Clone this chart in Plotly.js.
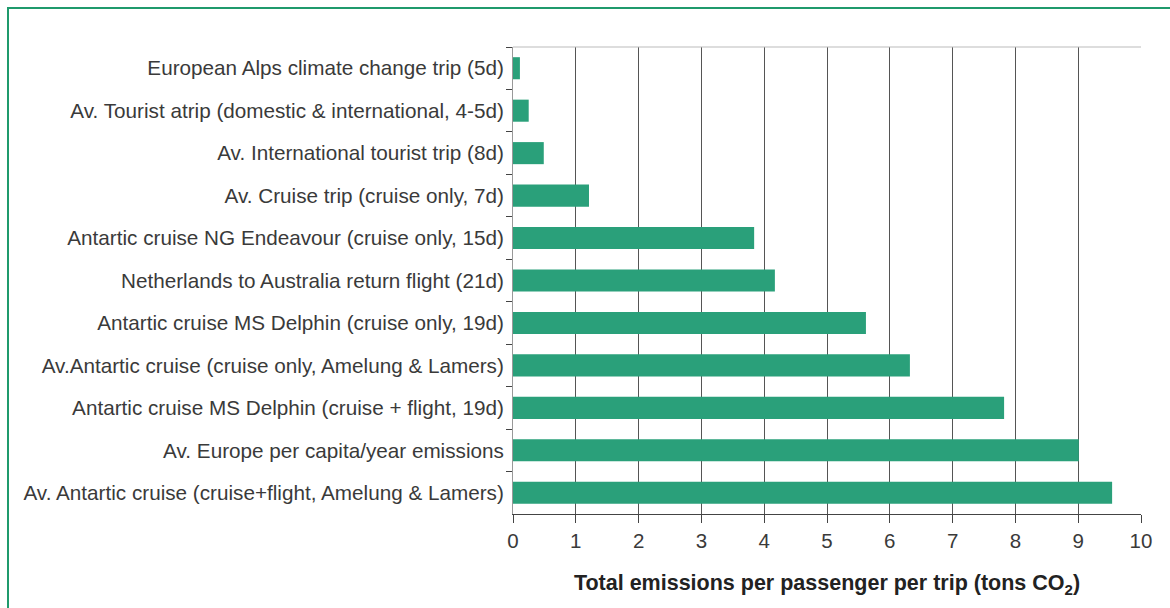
<!DOCTYPE html>
<html>
<head>
<meta charset="utf-8">
<script src="https://cdn.plot.ly/plotly-3.0.1.min.js"></script>
<style>
  html, body { margin: 0; padding: 0; background: #fff; }
  #wrap { position: relative; width: 1170px; height: 608px; }
  #chart { position: absolute; left: 0; top: 0; width: 1170px; height: 608px; }
  #frame { position: absolute; left: 7px; top: 7px; width: 1163px; height: 601px;
           border-left: 2px solid #1f9a6c; border-top: 2px solid #1f9a6c; pointer-events: none; }
</style>
</head>
<body>
<div id="wrap">
  <div id="chart"></div>
  <div id="frame"></div>
</div>
<script>
const categories = [
  "European Alps climate change trip (5d)",
  "Av. Tourist atrip (domestic & international, 4-5d)",
  "Av. International tourist trip (8d)",
  "Av. Cruise trip (cruise only, 7d)",
  "Antartic cruise NG Endeavour (cruise only, 15d)",
  "Netherlands to Australia return flight (21d)",
  "Antartic cruise MS Delphin (cruise only, 19d)",
  "Av.Antartic cruise (cruise only, Amelung & Lamers)",
  "Antartic cruise MS Delphin (cruise + flight, 19d)",
  "Av. Europe per capita/year emissions",
  "Av. Antartic cruise (cruise+flight, Amelung & Lamers)"
];
const emissions = [0.11, 0.25, 0.49, 1.21, 3.84, 4.17, 5.62, 6.32, 7.82, 9.01, 9.54];
const xTicks = [0, 1, 2, 3, 4, 5, 6, 7, 8, 9, 10];
const xTitle = "Total emissions per passenger per trip (tons CO<sub>2</sub>)";

const trace = {
  type: "bar",
  orientation: "h",
  x: emissions,
  y: categories,
  marker: { color: "#2aa07a" },
  hoverinfo: "x+y"
};

const layout = {
  width: 1170,
  height: 608,
  margin: { l: 513, r: 29, t: 47, b: 94 },
  paper_bgcolor: "#ffffff",
  plot_bgcolor: "#ffffff",
  font: { family: "Liberation Sans, Arial, sans-serif", color: "#3a3a3a", size: 20 },
  bargap: 0.48,
  showlegend: false,
  xaxis: {
    range: [0, 10],
    tickvals: xTicks,
    ticktext: xTicks.map(String),
    showgrid: true,
    gridcolor: "#555555",
    gridwidth: 1,
    zeroline: false,
    showline: true,
    linecolor: "#444444",
    linewidth: 1,
    mirror: false,
    ticks: "outside",
    ticklen: 8,
    tickcolor: "#444444",
    tickfont: { size: 20.5, color: "#3a3a3a" },
    title: { text: xTitle, font: { size: 21.5, color: "#222222", weight: "bold" }, standoff: 24 }
  },
  yaxis: {
    type: "category",
    autorange: "reversed",
    tickson: "boundaries",
    ticks: "outside",
    ticklen: 6,
    tickcolor: "#444444",
    showline: true,
    linecolor: "#999999",
    linewidth: 1,
    showgrid: false,
    zeroline: false,
    tickfont: { size: 20.7, color: "#3a3a3a" },
    ticklabelstandoff: 4
  },
  shapes: [
    { type: "line", xref: "paper", yref: "paper", x0: 0, x1: 1, y0: 1, y1: 1,
      line: { color: "#bbbbbb", width: 1 } }
  ]
};

Plotly.newPlot("chart", [trace], layout, { displayModeBar: false, staticPlot: true });
</script>
</body>
</html>
